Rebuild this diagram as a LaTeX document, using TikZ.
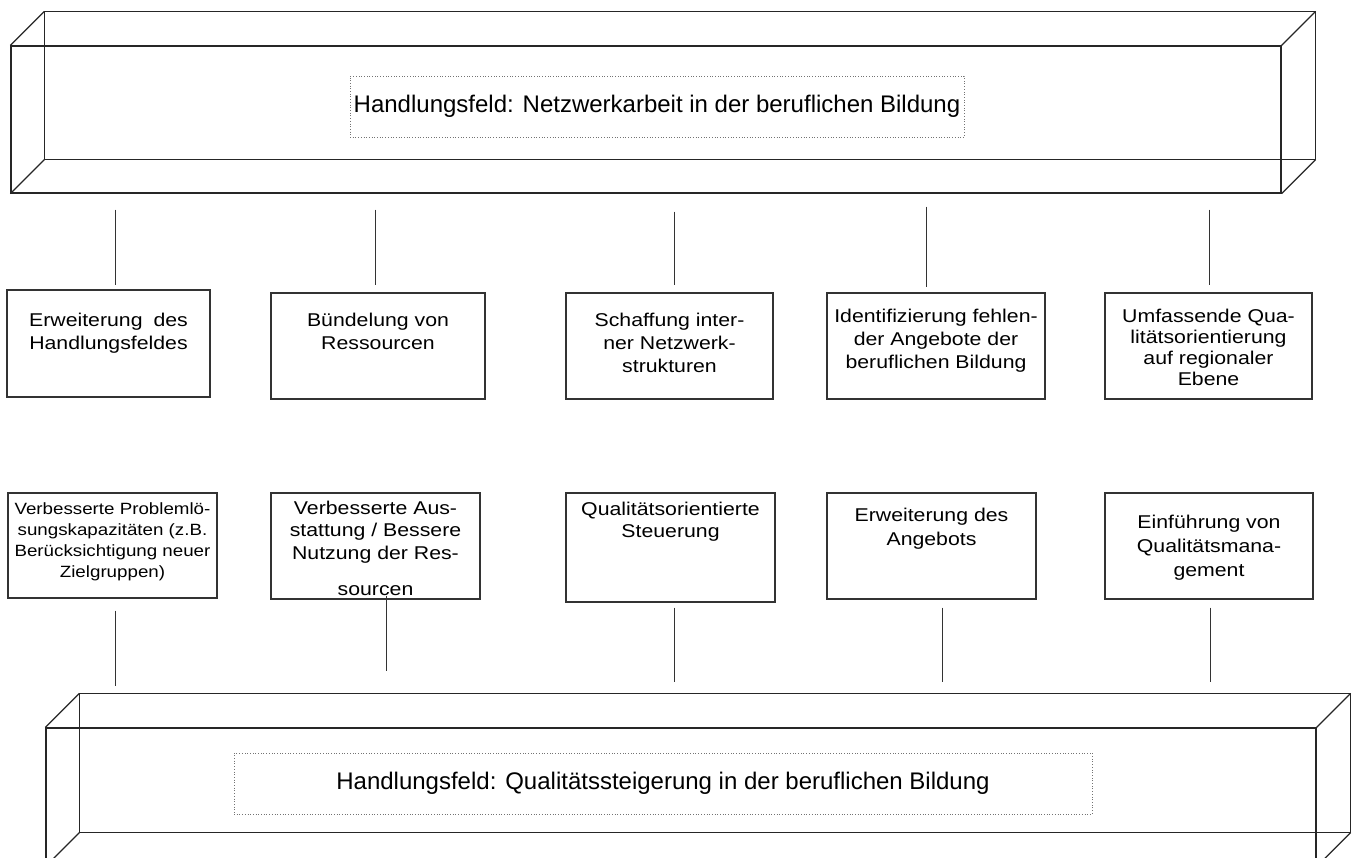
\documentclass[tikz,border=0pt]{standalone}
\usepackage{fontspec}
\setmainfont{Liberation Sans}
\newfontfamily\bxfont[FakeStretch=1.15]{Liberation Sans}
\begin{document}
\begin{tikzpicture}[x=1pt,y=-1pt,
  frame/.style={draw=black!85, line width=1.2pt},
  face/.style={draw=black!85, line width=1.2pt, rectangle, inner sep=0pt},
  lbl/.style={draw=black!55, dotted, line width=0.7pt, rectangle, inner sep=0pt, font=\fontsize{24}{28}\selectfont},
  box/.style={draw=black!80, line width=1.2pt, rectangle, inner sep=0pt},
  txt/.style={inner sep=0pt, align=center, anchor=north},
  conn/.style={draw=black!80, line width=1pt}]
\useasboundingbox (0,0) rectangle (1356,857);
\clip (0,0) rectangle (1356,857);

% top cuboid
\node[face, minimum width=1270pt, minimum height=147pt] (topf) at (646,119.5) {};
\draw[frame] ([shift={(34,-34)}]topf.north west) rectangle ([shift={(34,-34)}]topf.south east);
\foreach \a in {north west,north east,south west,south east}
  \draw[frame] (topf.\a) -- ++(34,-34);
\node[lbl, minimum width=614pt, minimum height=61pt] (toplbl) at (657,106.5)
  {Handlungsfeld: Netzwerkarbeit in der beruflichen Bildung};

% bottom cuboid
\node[face, minimum width=1270pt, minimum height=138pt] (botf) at (681,797) {};
\draw[frame] ([shift={(34,-34)}]botf.north west) rectangle ([shift={(34,-34)}]botf.south east);
\foreach \a in {north west,north east,south west,south east}
  \draw[frame] (botf.\a) -- ++(34,-34);
\coordinate (bb) at ([shift={(34,-34)}]botf.north);
\node[lbl, minimum width=858pt, minimum height=61pt] (botlbl) at (663,783.5)
  {Handlungsfeld: Qualitätssteigerung in der beruflichen Bildung};

% row 1 boxes
\node[box, minimum width=203pt, minimum height=107pt] (r1a) at (108.5,343.5) {};
\node[box, minimum width=214pt, minimum height=106pt] (r1b) at (378,346) {};
\node[box, minimum width=207pt, minimum height=106pt] (r1c) at (669.5,346) {};
\node[box, minimum width=218pt, minimum height=106pt] (r1d) at (936,346) {};
\node[box, minimum width=207pt, minimum height=106pt] (r1e) at (1208.5,346) {};

\node[txt, font=\bxfont\fontsize{18.5}{23}\selectfont] (t1a) at ([yshift=-23pt]r1a.north) {Erweiterung\hspace{5pt} des\\Handlungsfeldes};
\node[txt, font=\bxfont\fontsize{18.5}{23}\selectfont] (t1b) at ([yshift=-20pt]r1b.north) {Bündelung von\\Ressourcen};
\node[txt, font=\bxfont\fontsize{18.5}{23}\selectfont] (t1c) at ([yshift=-20pt]r1c.north) {Schaffung inter-\\ner Netzwerk-\\strukturen};
\node[txt, font=\bxfont\fontsize{18.5}{23}\selectfont] (t1d) at ([yshift=-16pt]r1d.north) {Identifizierung fehlen-\\der Angebote der\\beruflichen Bildung};
\node[txt, font=\bxfont\fontsize{18.5}{21}\selectfont] (t1e) at ([yshift=-16pt]r1e.north) {Umfassende Qua-\\litätsorientierung\\auf regionaler\\Ebene};

% row 2 boxes
\node[box, minimum width=209pt, minimum height=105pt] (r2a) at (112.5,545.5) {};
\node[box, minimum width=209pt, minimum height=106pt] (r2b) at (375.5,546) {};
\node[box, minimum width=209pt, minimum height=109pt] (r2c) at (670.5,547.5) {};
\node[box, minimum width=209pt, minimum height=106pt] (r2d) at (931.5,546) {};
\node[box, minimum width=208pt, minimum height=106pt] (r2e) at (1209,546) {};

\node[txt, font=\bxfont\fontsize{16.3}{21}\selectfont] (t2a) at ([yshift=-10pt]r2a.north) {Verbesserte Problemlö-\\sungskapazitäten (z.B.\\Berücksichtigung neuer\\Zielgruppen)};
\node[txt, font=\bxfont\fontsize{18.5}{22.5}\selectfont] (t2b) at ([yshift=-8pt]r2b.north) {Verbesserte Aus-\\stattung / Bessere\\Nutzung der Res-\\[14pt]sourcen};
\node[txt, font=\bxfont\fontsize{18.5}{22}\selectfont] (t2c) at ([yshift=-9pt]r2c.north) {Qualitätsorientierte\\Steuerung};
\node[txt, font=\bxfont\fontsize{18.5}{24}\selectfont] (t2d) at ([yshift=-15pt]r2d.north) {Erweiterung des\\Angebots};
\node[txt, font=\bxfont\fontsize{18.5}{24}\selectfont] (t2e) at ([yshift=-22pt]r2e.north) {Einführung von\\Qualitätsmana-\\gement};

% x positions of connectors
\coordinate (xa) at (115,0);
\coordinate (xb) at (375,0);
\coordinate (xc) at (674,0);
\coordinate (xd) at (926,0);
\coordinate (xe) at (1209,0);
\coordinate (ya) at (115,0);
\coordinate (yb) at (386,0);
\coordinate (yc) at (674,0);
\coordinate (yd) at (942,0);
\coordinate (ye) at (1210,0);

% top connectors
\draw[conn, shorten <=16pt, shorten >=4pt] (topf.south -| xa) -- (r1a.north -| xa);
\draw[conn, shorten <=16pt, shorten >=7pt] (topf.south -| xb) -- (r1b.north -| xb);
\draw[conn, shorten <=18pt, shorten >=7pt] (topf.south -| xc) -- (r1c.north -| xc);
\draw[conn, shorten <=13pt, shorten >=5pt] (topf.south -| xd) -- (r1d.north -| xd);
\draw[conn, shorten <=16pt, shorten >=7pt] (topf.south -| xe) -- (r1e.north -| xe);

% bottom connectors
\draw[conn, shorten <=12pt, shorten >=7pt] (r2a.south -| ya) -- (bb -| ya);
\draw[conn, shorten <=-4pt, shorten >=22pt] (r2b.south -| yb) -- (bb -| yb);
\draw[conn, shorten <=5pt, shorten >=11pt] (r2c.south -| yc) -- (bb -| yc);
\draw[conn, shorten <=8pt, shorten >=11pt] (r2d.south -| yd) -- (bb -| yd);
\draw[conn, shorten <=8pt, shorten >=11pt] (r2e.south -| ye) -- (bb -| ye);
\end{tikzpicture}
\end{document}
